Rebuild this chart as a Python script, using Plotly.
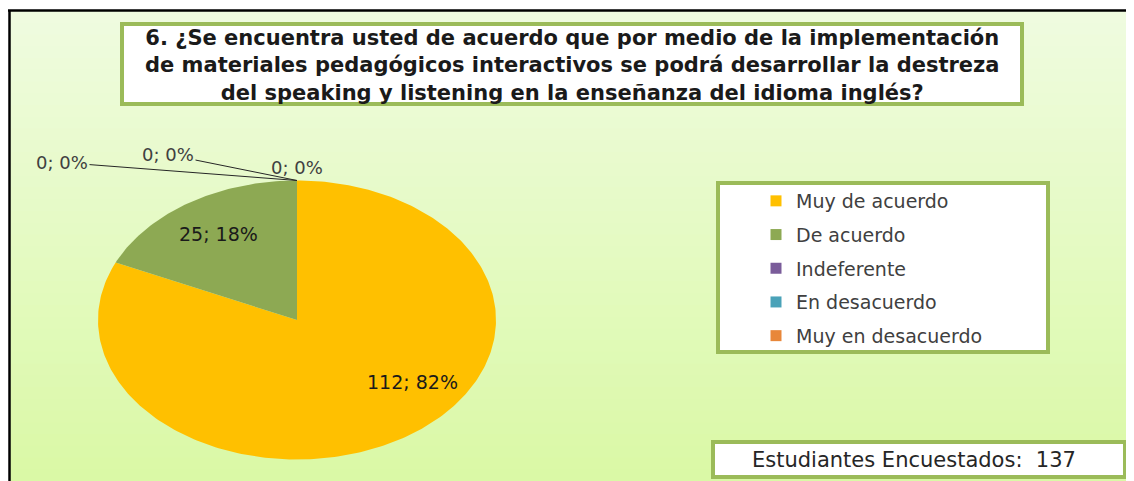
import math
import plotly.graph_objects as go

# data
categorias = ["Muy de acuerdo", "De acuerdo", "Indeferente", "En desacuerdo", "Muy en desacuerdo"]
valores = [112, 25, 0, 0, 0]
colores = ["#FFC000", "#8DA953", "#7A5C9A", "#4AA2B8", "#E8873A"]
titulo = ("6. ¿Se encuentra usted de acuerdo que por medio de la implementación<br>"
          "de materiales pedagógicos interactivos se podrá desarrollar la destreza<br>"
          "del speaking y listening en la enseñanza del idioma inglés?")
total_texto = "Estudiantes Encuestados:  137"

# the page has an 8px body margin, so the figure is a bit smaller than the window
OFF = 8
W, H = 1134 - OFF, 481 - OFF
CX, CY, RX, RY = 297 - OFF, 320 - OFF, 199, 139.5   # pie centre / radii in pixels


def px(x):
    return (x - OFF) / W


def py(y):
    return 1 - (y - OFF) / H


total = sum(valores)
fig = go.Figure()

# wedges, clockwise from 12 o'clock like Excel
inicio = 0.0
angulos = []
for cat, v, c in zip(categorias, valores, colores):
    fin = inicio + 360.0 * v / total
    angulos.append((inicio, fin))
    n = max(2, int(fin - inicio))
    xs, ys = [0], [0]
    for i in range(n + 1):
        a = math.radians(inicio + (fin - inicio) * i / n)
        xs.append(math.sin(a))
        ys.append(math.cos(a))
    xs.append(0)
    ys.append(0)
    fig.add_trace(go.Scatter(x=xs, y=ys, mode="lines", fill="toself", fillcolor=c,
                             line=dict(width=0, color=c), showlegend=False, hoverinfo="skip"))
    inicio = fin

# legend entries
for cat, c in zip(categorias, colores):
    fig.add_trace(go.Scatter(x=[None], y=[None], mode="markers", name=cat, legendgroup=cat,
                             marker=dict(symbol="square", size=11, color=c)))

shapes = []
# gradient background
top_c = (0xEF, 0xFB, 0xDF)
bot_c = (0xDA, 0xF9, 0xA6)
nb = 40
y0, y1 = 11, 481
for i in range(nb):
    t = i / (nb - 1)
    col = "rgb(%d,%d,%d)" % tuple(round(a + (b - a) * t) for a, b in zip(top_c, bot_c))
    ya = y0 + (y1 - y0) * i / nb
    yb = min(y0 + (y1 - y0) * (i + 1) / nb + 1, 481)
    shapes.append(dict(type="rect", xref="paper", yref="paper", layer="below",
                       x0=px(9), x1=px(1130), y0=py(ya), y1=py(yb),
                       fillcolor=col, line=dict(width=0)))
# frame lines
shapes.append(dict(type="line", xref="paper", yref="paper", layer="below",
                   x0=px(8), x1=1, y0=py(10.5), y1=py(10.5), line=dict(color="black", width=2.5)))
shapes.append(dict(type="line", xref="paper", yref="paper", layer="below",
                   x0=px(9.5), x1=px(9.5), y0=py(10), y1=0, line=dict(color="black", width=2.5)))
shapes.append(dict(type="line", xref="paper", yref="paper", layer="below",
                   x0=px(1130), x1=px(1130), y0=py(12), y1=0, line=dict(color="#C5DB9C", width=1.5)))
# boxes
for (a, b, c, d) in [(122, 24, 1022, 104), (718, 183, 1048, 352), (713, 442, 1125, 477)]:
    shapes.append(dict(type="rect", xref="paper", yref="paper", layer="below",
                       x0=px(a), x1=px(c), y0=py(b), y1=py(d),
                       fillcolor="white", line=dict(color="#9BBB59", width=4)))

anots = []
anots.append(dict(xref="paper", yref="paper", x=px(572), y=py(65), xanchor="center", yanchor="middle",
                  text="<b>" + titulo + "</b>", showarrow=False, align="center",
                  font=dict(family="DejaVu Sans", size=21, color="#1A1A1A")))
anots.append(dict(xref="paper", yref="paper", x=px(914), y=py(460), xanchor="center", yanchor="middle",
                  text=total_texto, showarrow=False,
                  font=dict(family="DejaVu Sans", size=21, color="#262626")))

# slice labels
desplaz = [(37, 24), (0, 0)]
for i, (v, (a0, a1)) in enumerate(zip(valores, angulos)):
    etiqueta = "%d; %d%%" % (v, round(100 * v / total))
    if v > 0:
        m = math.radians((a0 + a1) / 2)
        dx, dy = desplaz[i]
        anots.append(dict(x=0.73 * math.sin(m), y=0.73 * math.cos(m), text=etiqueta,
                          showarrow=False, xshift=dx, yshift=dy,
                          font=dict(family="DejaVu Sans", size=19, color="#1A1A1A")))
# zero slices, all at the top of the pie
offs = [(-235, -18, True), (-129, -26, True), (0, -13, False)]
ceros = [i for i, v in enumerate(valores) if v == 0]
for k, i in zip(offs, ceros):
    a = math.radians(angulos[i][0])
    etiqueta = "%d; %d%%" % (valores[i], round(100 * valores[i] / total))
    if k[2]:
        anots.append(dict(x=math.sin(a), y=math.cos(a), text=etiqueta, showarrow=True,
                          ax=k[0], ay=k[1], arrowhead=0, arrowwidth=1, arrowcolor="#262626",
                          font=dict(family="DejaVu Sans", size=18, color="#404040")))
    else:
        anots.append(dict(x=math.sin(a), y=math.cos(a), text=etiqueta, showarrow=False,
                          yshift=-k[1],
                          font=dict(family="DejaVu Sans", size=18, color="#404040")))

fig.update_layout(
    width=W, height=H,
    margin=dict(l=0, r=0, t=0, b=0),
    paper_bgcolor="white",
    plot_bgcolor="rgba(0,0,0,0)",
    xaxis=dict(visible=False, range=[-CX / RX, (W - CX) / RX], fixedrange=True),
    yaxis=dict(visible=False, range=[-(H - CY) / RY, CY / RY], fixedrange=True),
    shapes=shapes,
    annotations=anots,
    showlegend=True,
    legend=dict(x=px(756), y=py(182), xanchor="left", yanchor="top",
                bgcolor="rgba(0,0,0,0)", borderwidth=0, tracegroupgap=6,
                font=dict(family="DejaVu Sans", size=19, color="#404040")),
)

fig.write_html("out.html")
